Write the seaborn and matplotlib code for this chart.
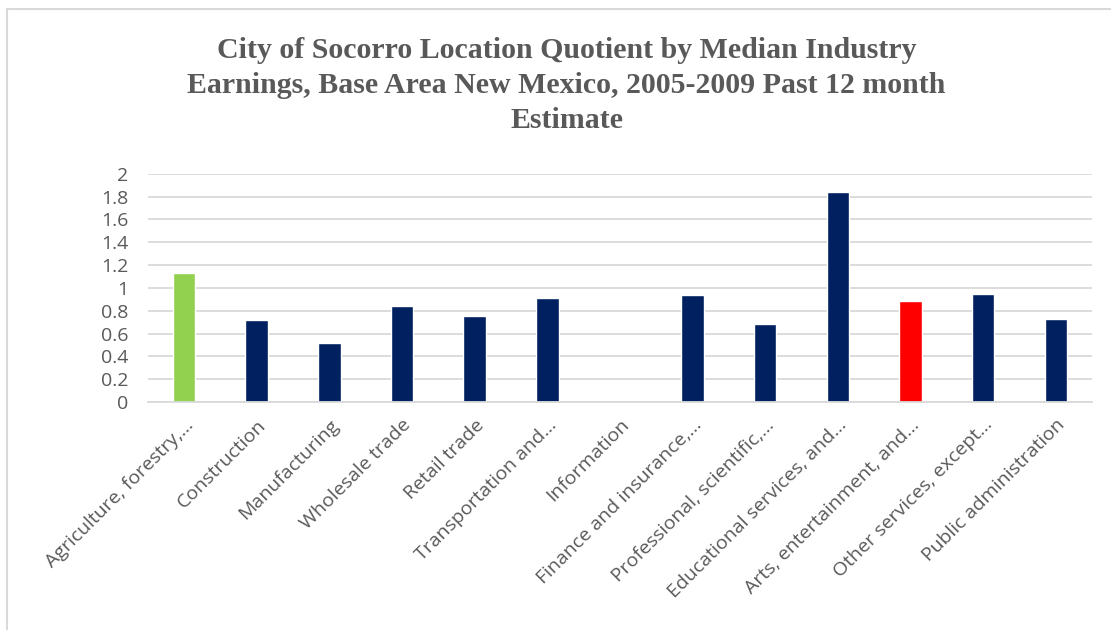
import matplotlib
matplotlib.use("Agg")
import matplotlib.pyplot as plt
import seaborn as sns
import pandas as pd
from matplotlib.patches import Rectangle

# values
industries = [
    "Agriculture, forestry,...",
    "Construction",
    "Manufacturing",
    "Wholesale trade",
    "Retail trade",
    "Transportation and...",
    "Information",
    "Finance and insurance,...",
    "Professional, scientific,...",
    "Educational services, and...",
    "Arts, entertainment, and...",
    "Other services, except...",
    "Public administration",
]
quotients = [1.13, 0.72, 0.52, 0.84, 0.755, 0.91, 0.0, 0.94, 0.68, 1.84, 0.885, 0.95, 0.73]
bar_colors = ["#92D050", "#002060", "#002060", "#002060", "#002060", "#002060", "#002060",
              "#002060", "#002060", "#002060", "#FF0000", "#002060", "#002060"]
y_ticks = [0, 0.2, 0.4, 0.6, 0.8, 1, 1.2, 1.4, 1.6, 1.8, 2]
y_tick_labels = ["0", "0.2", "0.4", "0.6", "0.8", "1", "1.2", "1.4", "1.6", "1.8", "2"]

df = pd.DataFrame({"industry": industries, "lq": quotients})

sns.set_style("white")
plt.rcParams['font.family'] = ['Open Sans', 'DejaVu Sans']

fig = plt.figure(figsize=(11.11, 6.30), dpi=100)
ax = fig.add_axes([0.133, 0.362, 0.85, 0.362])

sns.barplot(data=df, x="industry", y="lq", hue="industry", palette=bar_colors,
            legend=False, width=0.31, ax=ax, saturation=1)

ax.set_ylim(0, 2)
ax.set_yticks(y_ticks)
ax.set_yticklabels(y_tick_labels)
ax.set_xlim(-0.5, len(industries) - 0.5)
ax.yaxis.grid(True, color="#D9D9D9", linewidth=1.3)
ax.set_axisbelow(True)
for s in ["top", "right", "left"]:
    ax.spines[s].set_visible(False)
ax.spines["bottom"].set_color("#D9D9D9")
ax.spines["bottom"].set_linewidth(1.3)
ax.set_xlabel("")
ax.set_ylabel("")
ax.tick_params(axis="both", length=0, colors="#595959", labelsize=14)
ax.tick_params(axis="y", pad=14)
ax.tick_params(axis="x", pad=10)
plt.setp(ax.get_xticklabels(), rotation=45, ha="right", rotation_mode="anchor")

fig.text(0.51, 0.942, "City of Socorro Location Quotient by Median Industry\n"
         "Earnings, Base Area New Mexico, 2005-2009 Past 12 month\nEstimate",
         ha="center", va="top", fontsize=21.5, fontweight="bold", color="#595959",
         family=["Liberation Serif", "DejaVu Serif"], linespacing=1.4)

# light grey chart border like the original
fig.patches.append(Rectangle((0.006, -0.01), 1.2, 0.995, transform=fig.transFigure,
                             fill=False, edgecolor="#D9D9D9", linewidth=1.5))

fig.savefig("out.png", dpi=100)
